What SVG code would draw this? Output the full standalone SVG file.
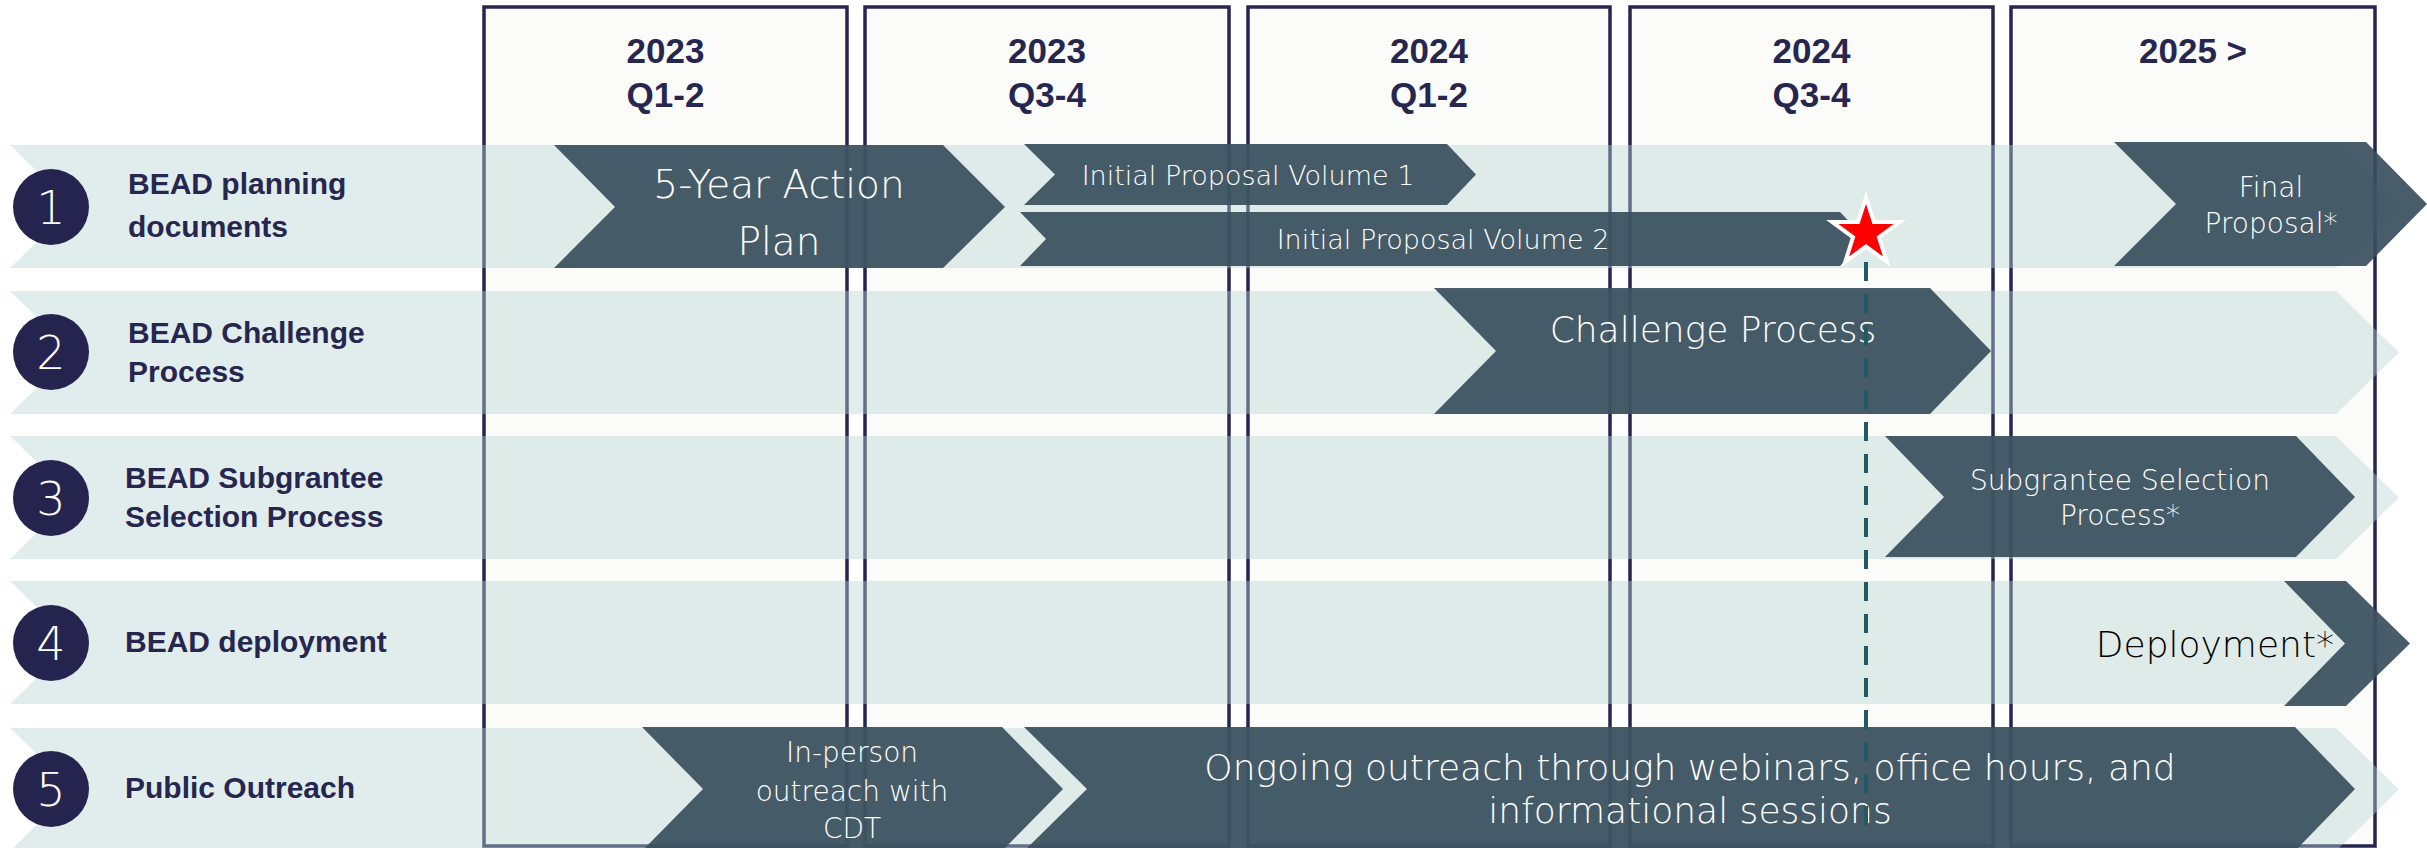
<svg xmlns="http://www.w3.org/2000/svg" xmlns:xlink="http://www.w3.org/1999/xlink" width="2427" height="848" viewBox="0 0 2427 848">
<style>
.col{fill:#fbfbf9;stroke:#26264f;stroke-width:3.5}
.band{fill:#b8d5d5;opacity:0.42}
.chev{fill:#3a505e;opacity:0.93}
.hdr{font-family:"Liberation Sans",Arial,sans-serif;font-weight:bold;font-size:35px;fill:#26264f;text-anchor:middle}
.lbl{font-family:"Liberation Sans",Arial,sans-serif;font-weight:bold;font-size:30px;fill:#26264f}
.num{font-family:"DejaVu Sans",sans-serif;font-weight:200;font-size:46px;fill:#ffffff;text-anchor:middle}
.wt{font-family:"DejaVu Sans",sans-serif;font-weight:200;fill:#ffffff;text-anchor:middle}
.circ{fill:#25244f}
</style>
<defs>
<polygon id="bandShape" points="10,0 2336,0 2399,61.5 2336,123 10,123 73,61.5"/>
</defs>
<rect width="2427" height="848" fill="#ffffff"/>
<g id="columns">
<rect class="col" x="484" y="7" width="363" height="839"/>
<rect class="col" x="865" y="7" width="364" height="839"/>
<rect class="col" x="1248" y="7" width="362" height="839"/>
<rect class="col" x="1630" y="7" width="363" height="839"/>
<rect class="col" x="2011" y="7" width="364" height="839"/>
<text class="hdr" x="665.5" y="63">2023</text>
<text class="hdr" x="665.5" y="107">Q1-2</text>
<text class="hdr" x="1047" y="63">2023</text>
<text class="hdr" x="1047" y="107">Q3-4</text>
<text class="hdr" x="1429" y="63">2024</text>
<text class="hdr" x="1429" y="107">Q1-2</text>
<text class="hdr" x="1811.5" y="63">2024</text>
<text class="hdr" x="1811.5" y="107">Q3-4</text>
<text class="hdr" x="2193" y="63">2025 &gt;</text>
</g>
<g id="bands">
<use xlink:href="#bandShape" class="band" transform="translate(0,145)"/>
<use xlink:href="#bandShape" class="band" transform="translate(0,291)"/>
<use xlink:href="#bandShape" class="band" transform="translate(0,436)"/>
<use xlink:href="#bandShape" class="band" transform="translate(0,581)"/>
<use xlink:href="#bandShape" class="band" transform="translate(0,728)"/>
</g>
<g id="row1">
<circle class="circ" cx="51" cy="207" r="38"/>
<text class="num" x="51" y="224">1</text>
<text class="lbl" x="128" y="194">BEAD planning</text>
<text class="lbl" x="128" y="237">documents</text>
</g>
<g id="row2">
<circle class="circ" cx="51" cy="352" r="38"/>
<text class="num" x="51" y="369">2</text>
<text class="lbl" x="128" y="343">BEAD Challenge</text>
<text class="lbl" x="128" y="382">Process</text>
</g>
<g id="row3">
<circle class="circ" cx="51" cy="498" r="38"/>
<text class="num" x="51" y="515">3</text>
<text class="lbl" x="125" y="488">BEAD Subgrantee</text>
<text class="lbl" x="125" y="527">Selection Process</text>
</g>
<g id="row4">
<circle class="circ" cx="51" cy="643" r="38"/>
<text class="num" x="51" y="660">4</text>
<text class="lbl" x="125" y="652">BEAD deployment</text>
</g>
<g id="row5">
<circle class="circ" cx="51" cy="789" r="38"/>
<text class="num" x="51" y="806">5</text>
<text class="lbl" x="125" y="798">Public Outreach</text>
</g>
<g id="action-plan">
<polygon class="chev" points="554,145 943,145 1005,207 943,268 554,268 615,207"/>
<text class="wt" x="779" y="198" font-size="39">5-Year Action</text>
<text class="wt" x="779" y="255" font-size="39">Plan</text>
</g>
<g id="ip-vol1">
<polygon class="chev" points="1024,144 1447,144 1476,174.5 1447,205 1024,205 1055,174.5"/>
<text class="wt" x="1248" y="185" font-size="27">Initial Proposal Volume 1</text>
</g>
<g id="ip-vol2">
<polygon class="chev" points="1020,212 1840,212 1866,239 1840,266 1020,266 1046,239"/>
<text class="wt" x="1443" y="249" font-size="27">Initial Proposal Volume 2</text>
</g>
<g id="final-proposal">
<polygon class="chev" points="2114,142 2366,142 2427,204 2366,266 2114,266 2176,204"/>
<text class="wt" x="2271" y="197" font-size="28">Final</text>
<text class="wt" x="2271" y="233" font-size="28">Proposal*</text>
</g>
<g id="challenge">
<polygon class="chev" points="1434,288 1930,288 1991,351 1930,414 1434,414 1496,351"/>
<text class="wt" x="1713" y="342" font-size="36">Challenge Process</text>
</g>
<g id="subgrantee">
<polygon class="chev" points="1885,436 2296,436 2355,497 2296,557 1885,557 1944,497"/>
<text class="wt" x="2120" y="490" font-size="28">Subgrantee Selection</text>
<text class="wt" x="2120" y="525" font-size="28">Process*</text>
</g>
<g id="deployment">
<polygon class="chev" points="2284,581 2346,581 2410,643.5 2346,706 2284,706 2345,643.5"/>
<text x="2334" y="657" font-family="DejaVu Sans, sans-serif" font-weight="300" font-size="36" fill="#000000" text-anchor="end">Deployment*</text>
</g>
<g id="in-person">
<polygon class="chev" points="642,727 1002,727 1063,789 1002,851 642,851 703,789"/>
<text class="wt" x="852" y="762" font-size="28">In-person</text>
<text class="wt" x="852" y="801" font-size="28">outreach with</text>
<text class="wt" x="852" y="838" font-size="28">CDT</text>
</g>
<g id="ongoing">
<polygon class="chev" points="1024,727 2295,727 2355,789 2295,851 1024,851 1087,789"/>
<text class="wt" x="1690" y="780" font-size="36">Ongoing outreach through webinars, office hours, and</text>
<text class="wt" x="1690" y="823" font-size="36">informational sessions</text>
</g>
<g id="connectors">
<line x1="1866" y1="262" x2="1866" y2="835" stroke="#1e5b66" stroke-width="4" stroke-dasharray="19 13"/>
</g>
<g id="milestone-star">
<polygon points="1866,204 1872.5,224 1893.6,224 1876.6,236.4 1883,256.5 1866,244.1 1849,256.5 1855.4,236.4 1838.4,224 1859.5,224" fill="#ff0000" stroke="#ffffff" stroke-width="8" stroke-linejoin="miter" stroke-miterlimit="10" paint-order="stroke"/>
</g>
</svg>
